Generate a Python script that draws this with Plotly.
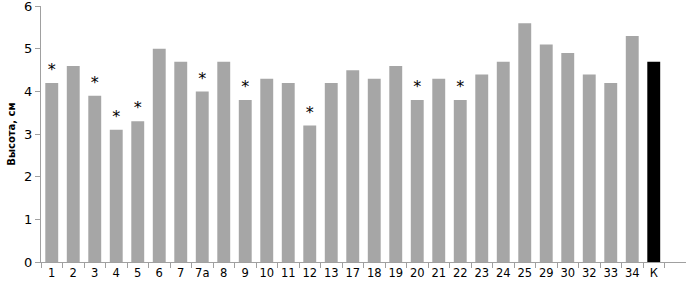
import plotly.graph_objects as go

categories = ["1", "2", "3", "4", "5", "6", "7", "7а", "8", "9", "10", "11", "12", "13",
              "17", "18", "19", "20", "21", "22", "23", "24", "25", "29", "30", "32",
              "33", "34", "К"]
values = [4.2, 4.6, 3.9, 3.1, 3.3, 5.0, 4.7, 4.0, 4.7, 3.8, 4.3, 4.2, 3.2, 4.2,
          4.5, 4.3, 4.6, 3.8, 4.3, 3.8, 4.4, 4.7, 5.6, 5.1, 4.9, 4.4, 4.2, 5.3, 4.7]
significant = ["1", "3", "4", "5", "7а", "9", "12", "20", "22"]
y_ticks = [0, 1, 2, 3, 4, 5, 6]

colors = ["#000000" if c == "К" else "#a6a6a6" for c in categories]

fig = go.Figure()
fig.add_trace(go.Bar(x=categories, y=values, marker=dict(color=colors, line=dict(width=0)),
                     width=0.6, showlegend=False))
star_x = [c for c in categories if c in significant]
star_y = [v + 0.28 for c, v in zip(categories, values) if c in significant]
fig.add_trace(go.Scatter(x=star_x, y=star_y, mode="text", text=["*"] * len(star_x),
                         textfont=dict(size=16, color="#000000", family="DejaVu Sans"),
                         showlegend=False, hoverinfo="skip"))

fig.update_layout(
    width=687, height=286,
    margin=dict(l=41, r=1, t=6, b=24),
    paper_bgcolor="white", plot_bgcolor="white",
    font=dict(family="DejaVu Sans", color="#000000"),
)
fig.update_xaxes(
    type="category", range=[-0.5, len(categories) + 0.5], automargin=False,
    showline=True, linecolor="#a0a0a0", linewidth=1, tickangle=0,
    ticks="outside", tickson="boundaries", ticklen=5, tickcolor="#a0a0a0",
    tickfont=dict(size=11.5), showgrid=False,
)
fig.update_yaxes(
    range=[0, 6.005], tickvals=y_ticks, showline=True, linecolor="#a0a0a0", linewidth=1,
    ticks="outside", ticklen=5, tickcolor="#a0a0a0", showgrid=False, zeroline=False,
    tickfont=dict(size=13), automargin=False, ticklabeloverflow="allow",
    title=dict(text="<b>Высота, см</b>", font=dict(size=10), standoff=6),
)

fig.write_html("out.html", config={"displayModeBar": False},
               post_script="document.body.style.margin='0';document.body.style.padding='0';")
